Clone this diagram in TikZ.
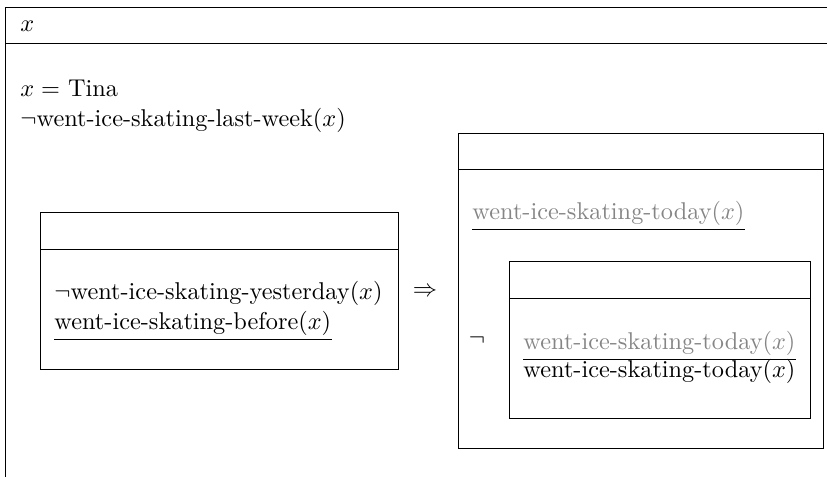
\documentclass[tikz,border=0pt]{standalone}
\usepackage{amssymb}

\begin{document}
\begin{tikzpicture}[x=0.4115pt,y=-0.4115pt]
	\tikzset{cond/.style={anchor=base west,inner sep=0pt}}
	\tikzset{box/.style={line width=0.4pt}}
	\tikzset{faded/.style={text=black!48}}
	\useasboundingbox (0,0) rectangle (827,477);

	% main box, runs on past the page
	\draw[box] (840,7) -- (5,7) -- (5,490);
	\draw[box] (5,43) -- (840,43);
	\node[cond] (u) at (20,32) {$x$};
	\node[cond] (tina) at (20,97) {$x =$ Tina};
	\node[cond] (lastweek) at (20,127) {$\neg$went-ice-skating-last-week$(x)$};

	% antecedent
	\draw[box] (40,212) rectangle (398,369);
	\draw[box] (40,249) -- (398,249);
	\node[cond] (yesterday) at (54,300) {$\neg$went-ice-skating-yesterday$(x)$};
	\node[cond] (before) at (54,330) {went-ice-skating-before$(x)$};
	\draw[box] ([yshift=-1.2pt]before.south west) -- ([yshift=-1.2pt]before.south east);

	\node (imp) at (425,292) {$\Rightarrow$};

	% consequent
	\draw[box] (458,133) rectangle (823,448);
	\draw[box] (458,169) -- (823,169);
	\node[cond,faded] (today) at (472,220) {went-ice-skating-today$(x)$};
	\draw[box] ([yshift=-1.2pt]today.south west) -- ([yshift=-1.2pt]today.south east);

	\node (neg) at (477,340) {$\neg$};
	\draw[box] (509,261) rectangle (810,418);
	\draw[box] (509,298) -- (810,298);
	\node[cond,faded] (todayA) at (523,350) {went-ice-skating-today$(x)$};
	\node[cond] (todayB) at (523,378) {went-ice-skating-today$(x)$};
	\draw[box] ([yshift=-1pt]todayA.south west) -- ([yshift=-1pt]todayA.south east);
\end{tikzpicture}
\end{document}
